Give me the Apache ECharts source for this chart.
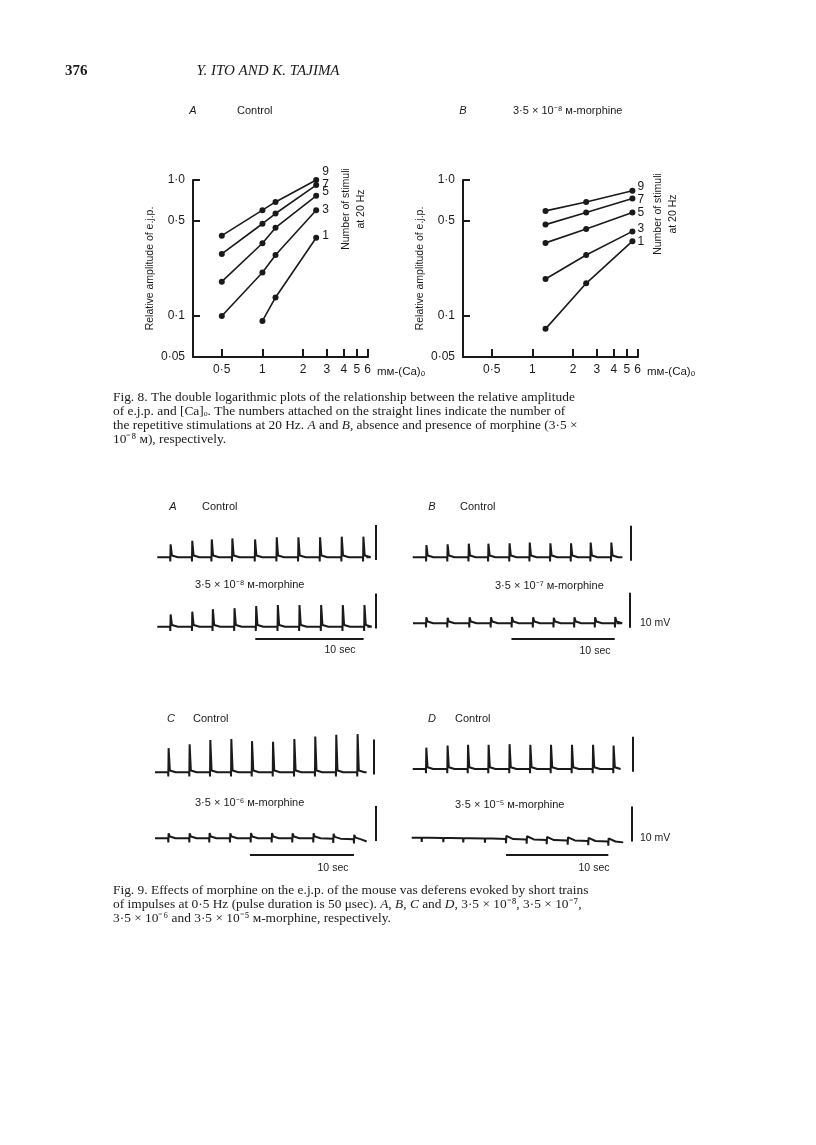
<!DOCTYPE html>
<html lang="en">
<head>
<meta charset="UTF-8">
<title>Ito and Tajima - p. 376</title>
<script src="https://cdn.jsdelivr.net/npm/echarts@6/dist/echarts.min.js"></script>
<style>
    * { margin: 0; padding: 0; }
    body { background: #fff; }
    #page { width: 816px; height: 1145px; }
</style>
</head>
<body>
<div id="page"></div>
<script>
// ---- Fig. 8: relative e.j.p. amplitude against [Ca]o (mM), log-log
var caA  = [0.5, 1, 1.25, 2.5];
var caA1 = [1, 1.25, 2.5];
var ampA9 = [0.39, 0.60, 0.69, 1.0];
var ampA7 = [0.286, 0.477, 0.567, 0.918];
var ampA5 = [0.179, 0.343, 0.446, 0.765];
var ampA3 = [0.10, 0.209, 0.281, 0.60];
var ampA1 = [0.092, 0.137, 0.376];

var caB = [1.25, 2.5, 5.5];
var ampB9 = [0.593, 0.69, 0.833];
var ampB7 = [0.47, 0.576, 0.732];
var ampB5 = [0.345, 0.436, 0.576];
var ampB3 = [0.187, 0.281, 0.419];
var ampB1 = [0.0805, 0.174, 0.355];

var caTicks  = [0.5, 1, 2, 3, 4, 5, 6];
var ampTicks = [0.05, 0.1, 0.5, 1.0];

// ---- Fig. 9: spike times (s), peak heights (mV above baseline), baseline drift (mV)
var tA1 = [1.2, 3.2, 5.0, 6.9, 9.0, 11.0, 13.0, 15.0, 17.0, 19.0];
var pA1 = [3.7, 4.7, 5.1, 5.4, 5.1, 5.7, 5.7, 5.7, 5.9, 5.9];
var tA2 = [1.2, 3.2, 5.1, 7.1, 9.1, 11.1, 13.1, 15.1, 17.1, 19.1];
var pA2 = [3.5, 4.3, 5.0, 5.3, 5.9, 6.2, 6.2, 6.2, 6.2, 6.2];
var tB1 = [1.3, 3.35, 5.4, 7.3, 9.35, 11.3, 13.3, 15.3, 17.2, 19.2];
var pB1 = [3.5, 3.7, 3.9, 3.9, 4.0, 4.2, 4.0, 4.0, 4.2, 4.2];
var tB2 = [1.26, 3.32, 5.45, 7.52, 9.55, 11.6, 13.6, 15.6, 17.6, 19.55];
var pB2 = [1.7, 1.6, 1.7, 1.7, 1.8, 1.7, 1.6, 1.7, 1.7, 1.8];
var tC1 = [1.28, 3.3, 5.29, 7.31, 9.3, 11.32, 13.37, 15.38, 17.4, 19.45];
var pC1 = [6.9, 8.0, 9.2, 9.5, 8.9, 8.7, 9.5, 10.2, 10.7, 10.9];
var tC2 = [1.28, 3.3, 5.22, 7.21, 9.2, 11.22, 13.2, 15.22, 17.14, 19.13];
var pC2 = [1.4, 1.4, 1.5, 1.4, 1.5, 1.5, 1.4, 1.4, 1.4, 1.3];
var bC2 = [0, 0, 0, 0, 0, 0, 0, 0, -0.1, -0.3];
var tD1 = [1.3, 3.38, 5.38, 7.39, 9.44, 11.47, 13.49, 15.54, 17.6, 19.61];
var pD1 = [6.1, 6.7, 6.9, 6.9, 7.1, 6.9, 6.9, 6.9, 6.9, 6.7];
var tD2 = [0.98, 3.09, 5.04, 7.16, 9.22, 11.24, 13.2, 15.25, 17.26, 19.22];
var pD2 = [0, 0, 0, 0, 0.9, 0.9, 0.9, 0.9, 0.9, 0.9];
var bD2 = [-0.1, -0.2, -0.25, -0.35, -0.5, -0.6, -0.8, -0.9, -1.05, -1.2];

var CAL_MV = 10, CAL_SEC = 10;

// ---- layout
var SANS = "'Liberation Sans', Arial, sans-serif";
var SERIF = "'Liberation Serif', 'Times New Roman', serif";
var INK = '#1a1a1a';
var MV_PX = 3.5, Y_MIN = -5.5, Y_MAX = 12, X_MAX = 22.5;

var traceLayout = [
    {t: tA1, pk: pA1, left: 157.3, base: 557.3, pxs: 10.83, end: 19.3, cal: [20.2, -0.8]},
    {t: tA2, pk: pA2, left: 157.3, base: 626.7, pxs: 10.83, end: 19.4, cal: [20.2, -0.5], bar: 9.05, barY: -3.5},
    {t: tB1, pk: pB1, left: 412.7, base: 557.3, pxs: 10.33, end: 20.3, cal: [21.1, -1.0]},
    {t: tB2, pk: pB2, left: 413, base: 623.3, pxs: 10.33, end: 19.7, cal: [21.0, -1.3], bar: 9.53, barY: -4.5},
    {t: tC1, pk: pC1, left: 155, base: 772.3, pxs: 10.4, end: 20.35, cal: [21.0, -0.6]},
    {t: tC2, pk: pC2, bl: bC2, left: 155, base: 838.3, pxs: 10.4, end: 20.35, endLv: -0.9, cal: [21.2, -0.8], bar: 9.13, barY: -4.6},
    {t: tD1, pk: pD1, left: 412.7, base: 769, pxs: 10.23, end: 20.07, cal: [21.47, -0.8]},
    {t: tD2, pk: pD2, bl: bD2, left: 411.7, base: 837.3, pxs: 10.23, end: 20.68, endLv: -1.45, cal: [21.5, -1.2], bar: 9.22, barY: -4.9}
];

function xFmt(v) {
    return String(v).replace('.', '·');
}
function yFmt(v) {
    return v === 1 ? '1·0' : String(v).replace('.', '·');
}

function logX(gi) {
    return {
        type: 'log', logBase: 10, gridIndex: gi, min: 0.306, max: 6.05,
        axisLine: {onZero: false, lineStyle: {color: INK, width: 2}},
        axisTick: {inside: true, length: 8, lineStyle: {color: INK, width: 2}, customValues: caTicks},
        axisLabel: {customValues: caTicks, formatter: xFmt, color: INK, fontSize: 12, fontFamily: SANS, margin: 7},
        splitLine: {show: false},
        name: 'mᴍ-(Ca)ₒ', nameLocation: 'end', nameGap: 9,
        nameTextStyle: {color: INK, fontSize: 11.5, fontFamily: SANS, verticalAlign: 'top', padding: [9, 0, 0, 0]}
    };
}

function logY(gi) {
    return {
        type: 'log', logBase: 10, gridIndex: gi, min: 0.05, max: 1,
        axisLine: {onZero: false, lineStyle: {color: INK, width: 2}},
        axisTick: {inside: true, length: 7, lineStyle: {color: INK, width: 2}, customValues: ampTicks},
        axisLabel: {customValues: ampTicks, formatter: yFmt, color: INK, fontSize: 12, fontFamily: SANS, margin: 8},
        splitLine: {show: false},
        name: 'Relative amplitude of e.j.p.', nameLocation: 'middle', nameRotate: 90, nameGap: 37,
        nameTextStyle: {color: INK, fontSize: 10.5, fontFamily: SANS}
    };
}

// one line per number of stimuli, label on the last point
function curve(gi, xs, ys, lab, dist, dy) {
    var data = xs.map(function (x, i) {
        if (i === xs.length - 1) {
            return {value: [x, ys[i]], label: {show: true, formatter: lab, position: 'right', distance: dist,
                offset: [0, dy], color: INK, fontSize: 12, fontFamily: SANS}};
        }
        return [x, ys[i]];
    });
    return {
        type: 'line', xAxisIndex: gi, yAxisIndex: gi, data: data, silent: true,
        symbol: 'circle', symbolSize: 6, itemStyle: {color: INK},
        lineStyle: {color: INK, width: 1.6}, label: {show: false}
    };
}

// baseline + stimulus artifact + e.j.p. for each spike
function traceData(L) {
    var d = [[0, L.bl ? L.bl[0] : 0]];
    for (var i = 0; i < L.t.length; i++) {
        var b = L.bl ? L.bl[i] : 0;
        d.push([L.t[i] - 0.02, b], [L.t[i], b - 1.2], [L.t[i] + 0.03, b + L.pk[i]], [L.t[i] + 0.15, b + 0.5], [L.t[i] + 0.7, b]);
    }
    d.push([L.end, L.endLv || 0]);
    return d;
}

var grids = [
    {left: 193, top: 180, width: 175, height: 177},
    {left: 463, top: 180, width: 175, height: 177}
];
var xAxes = [logX(0), logX(1)];
var yAxes = [logY(0), logY(1)];
var series = [
    curve(0, caA, ampA9, '9', 3, -8),
    curve(0, caA, ampA7, '7', 3, 0),
    curve(0, caA, ampA5, '5', 3, -4),
    curve(0, caA, ampA3, '3', 3, 0),
    curve(0, caA1, ampA1, '1', 3, -2),
    curve(1, caB, ampB9, '9', 2, -4),
    curve(1, caB, ampB7, '7', 2, 1),
    curve(1, caB, ampB5, '5', 2, 0),
    curve(1, caB, ampB3, '3', 2, -3),
    curve(1, caB, ampB1, '1', 2, 0)
];

traceLayout.forEach(function (L, k) {
    var gi = k + 2;
    grids.push({left: L.left, top: L.base - Y_MAX * MV_PX, width: X_MAX * L.pxs, height: (Y_MAX - Y_MIN) * MV_PX});
    xAxes.push({type: 'value', gridIndex: gi, min: 0, max: X_MAX, show: false});
    yAxes.push({type: 'value', gridIndex: gi, min: Y_MIN, max: Y_MAX, show: false});
    var marks = [[{coord: [L.cal[0], L.cal[1]]}, {coord: [L.cal[0], L.cal[1] + CAL_MV]}]];
    if (L.bar != null) {
        marks.push([{coord: [L.bar, L.barY]}, {coord: [L.bar + CAL_SEC, L.barY]}]);
    }
    series.push({
        type: 'line', xAxisIndex: gi, yAxisIndex: gi, data: traceData(L), silent: true,
        showSymbol: false, symbol: 'none', lineStyle: {color: INK, width: 2},
        markLine: {silent: true, symbol: ['none', 'none'], label: {show: false},
            lineStyle: {color: INK, width: 2, type: 'solid'}, data: marks}
    });
});

// ---- text
function txt(x, y, s, o) {
    o = o || {};
    var ff = o.ff || SANS, fs = o.fs || 11;
    var st = {
        text: s, fill: INK, fontFamily: ff, fontSize: fs,
        fontStyle: o.it ? 'italic' : 'normal', fontWeight: o.bold ? 'bold' : 'normal',
        textAlign: o.al || 'left', textVerticalAlign: 'middle'
    };
    if (o.lh) st.lineHeight = o.lh;
    if (o.rich) {
        st.rich = {i: {fontFamily: ff, fontSize: fs, fontStyle: 'italic', fill: INK}};
    }
    return {type: 'text', x: x, y: y, rotation: o.rot || 0, silent: true, style: st};
}

var CAP = {ff: SERIF, fs: 13.4, rich: true};
var texts = [
    txt(65, 71, '376', {ff: SERIF, fs: 15, bold: true}),
    txt(268, 71, 'Y. ITO AND K. TAJIMA', {ff: SERIF, fs: 15, it: true, al: 'center'}),

    txt(193, 111, 'A', {it: true, al: 'center'}),
    txt(237, 111, 'Control'),
    txt(463, 111, 'B', {it: true, al: 'center'}),
    txt(513, 111, '3·5 × 10⁻⁸ ᴍ-morphine'),
    txt(354, 209, 'Number of stimuli\nat 20 Hz', {fs: 10.5, al: 'center', rot: Math.PI / 2, lh: 15}),
    txt(666, 214, 'Number of stimuli\nat 20 Hz', {fs: 10.5, al: 'center', rot: Math.PI / 2, lh: 15}),

    txt(113, 397, 'Fig. 8. The double logarithmic plots of the relationship between the relative amplitude', CAP),
    txt(113, 411, 'of e.j.p. and [Ca]ₒ. The numbers attached on the straight lines indicate the number of', CAP),
    txt(113, 425, 'the repetitive stimulations at 20 Hz. {i|A} and {i|B}, absence and presence of morphine (3·5 ×', CAP),
    txt(113, 439, '10⁻⁸ ᴍ), respectively.', CAP),

    txt(173, 507, 'A', {it: true, al: 'center'}),
    txt(202, 507, 'Control'),
    txt(195, 585, '3·5 × 10⁻⁸ ᴍ-morphine'),
    txt(340, 650, '10 sec', {fs: 10.5, al: 'center'}),
    txt(432, 507, 'B', {it: true, al: 'center'}),
    txt(460, 507, 'Control'),
    txt(495, 586, '3·5 × 10⁻⁷ ᴍ-morphine'),
    txt(640, 623, '10 mV', {fs: 10.5}),
    txt(595, 651, '10 sec', {fs: 10.5, al: 'center'}),

    txt(171, 719, 'C', {it: true, al: 'center'}),
    txt(193, 719, 'Control'),
    txt(195, 803, '3·5 × 10⁻⁶ ᴍ-morphine'),
    txt(333, 868, '10 sec', {fs: 10.5, al: 'center'}),
    txt(432, 719, 'D', {it: true, al: 'center'}),
    txt(455, 719, 'Control'),
    txt(455, 805, '3·5 × 10⁻⁵ ᴍ-morphine'),
    txt(640, 838, '10 mV', {fs: 10.5}),
    txt(594, 868, '10 sec', {fs: 10.5, al: 'center'}),

    txt(113, 890, 'Fig. 9. Effects of morphine on the e.j.p. of the mouse vas deferens evoked by short trains', CAP),
    txt(113, 904, 'of impulses at 0·5 Hz (pulse duration is 50 μsec). {i|A}, {i|B}, {i|C} and {i|D}, 3·5 × 10⁻⁸, 3·5 × 10⁻⁷,', CAP),
    txt(113, 918, '3·5 × 10⁻⁶ and 3·5 × 10⁻⁵ ᴍ-morphine, respectively.', CAP)
];

var chart = echarts.init(document.getElementById('page'));
chart.setOption({
    animation: false,
    backgroundColor: '#fff',
    grid: grids,
    xAxis: xAxes,
    yAxis: yAxes,
    series: series,
    graphic: {elements: texts}
});
</script>
</body>
</html>
